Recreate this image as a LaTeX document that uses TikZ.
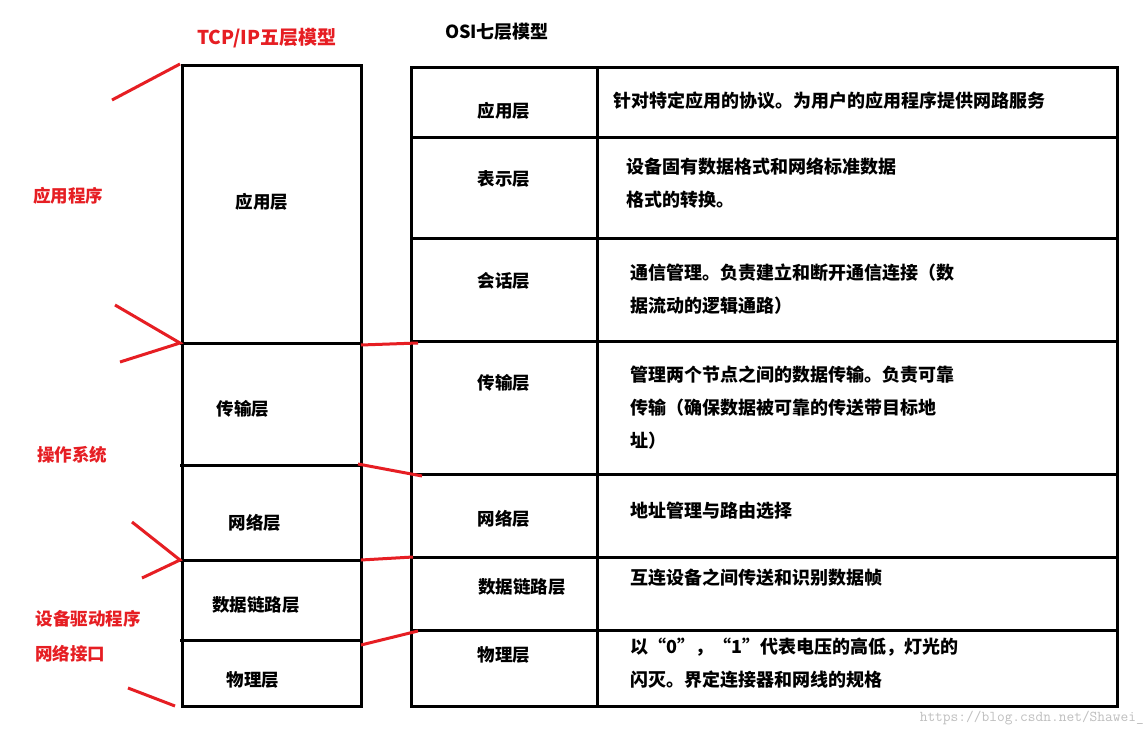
\documentclass[tikz,border=0pt]{standalone}
\usepackage{fontspec}
\setmainfont{Noto Sans CJK SC}[BoldFont={Noto Sans CJK SC Bold}]
\newfontfamily\cjk{Noto Sans CJK SC}
\begin{document}
\begin{tikzpicture}[x=1pt,y=-1pt,
  box/.style={draw,line width=3pt},
  red/.style={draw={rgb,255:red,230;green,30;blue,35},line width=3pt},
  lbl/.style={font=\cjk\bfseries\fontsize{17.5}{20}\selectfont,inner sep=0},
  desc/.style={font=\cjk\bfseries\fontsize{18}{33}\selectfont,inner sep=0,anchor=north west,align=left},
  rlbl/.style={lbl,text={rgb,255:red,230;green,30;blue,35}}]
\useasboundingbox (0,0) rectangle (1148,738);
\fill[white] (0,0) rectangle (1148,738);
% left column
\draw[box] (182,66) rectangle (361,706);
\foreach \y in {343,465,560,640} \draw[box] (180,\y) -- (361,\y);
\node[lbl] (a1) at (262,202) {应用层};
\node[lbl] (a2) at (243,409) {传输层};
\node[lbl] (a3) at (255,523) {网络层};
\node[lbl] (a4) at (256,605) {数据链路层};
\node[lbl] (a5) at (253,680) {物理层};
% right table
\draw[box] (411,68) rectangle (1117,706);
\draw[box] (597,68) -- (597,706);
\foreach \y in {138,238,341,474,557,630} \draw[box] (411,\y) -- (1117,\y);
\node[lbl] (o1) at (504,111) {应用层};
\node[lbl] (o2) at (504,179) {表示层};
\node[lbl] (o3) at (504,281) {会话层};
\node[lbl] (o4) at (504,383) {传输层};
\node[lbl] (o5) at (504,519) {网络层};
\node[lbl] (o6) at (522,587) {数据链路层};
\node[lbl] (o7) at (504,655) {物理层};
\node[desc] (d1) at (613,92) {针对特定应用的协议。为用户的应用程序提供网路服务};
\node[desc] (d2) at (626,158) {设备固有数据格式和网络标准数据\\格式的转换。};
\node[desc] (d3) at (630,264) {通信管理。负责建立和断开通信连接（数\\据流动的逻辑通路）};
\node[desc] (d4) at (630,366) {管理两个节点之间的数据传输。负责可靠\\传输（确保数据被可靠的传送带目标地\\址）};
\node[desc] (d5) at (630,502) {地址管理与路由选择};
\node[desc] (d6) at (630,569) {互连设备之间传送和识别数据帧};
\node[desc] (d7) at (630,638) {以“0”，“1”代表电压的高低，灯光的\\闪灭。界定连接器和网线的规格};
% titles
\node[rlbl,font=\cjk\bfseries\fontsize{19}{20}\selectfont] (t1) at (267,38) {TCP/IP五层模型};
\node[lbl,font=\cjk\bfseries\fontsize{18}{20}\selectfont] (t2) at (497,32) {OSI七层模型};
\node[rlbl] (r1) at (68,196) {应用程序};
\node[rlbl] (r2) at (72,455) {操作系统};
\node[rlbl] (r3) at (88,619) {设备驱动程序};
\node[rlbl] (r4) at (70,654) {网络接口};
% red marks
\draw[red] (112,100) -- (180,64);
\draw[red] (115,305) -- (180,343) -- (120,362);
\draw[red] (132,522) -- (180,560) -- (142,578);
\draw[red] (128,688) -- (175,706);
\draw[red] (361,345) -- (418,343);
\draw[red] (358,464) -- (422,476);
\draw[red] (361,560) -- (413,557);
\draw[red] (361,645) -- (418,631);
\node[font=\ttfamily\fontsize{15}{16}\selectfont,text=black!25,anchor=east,inner sep=0] (wm) at (1144,718) {https://blog.csdn.net/Shawei\_};
\end{tikzpicture}
\end{document}
